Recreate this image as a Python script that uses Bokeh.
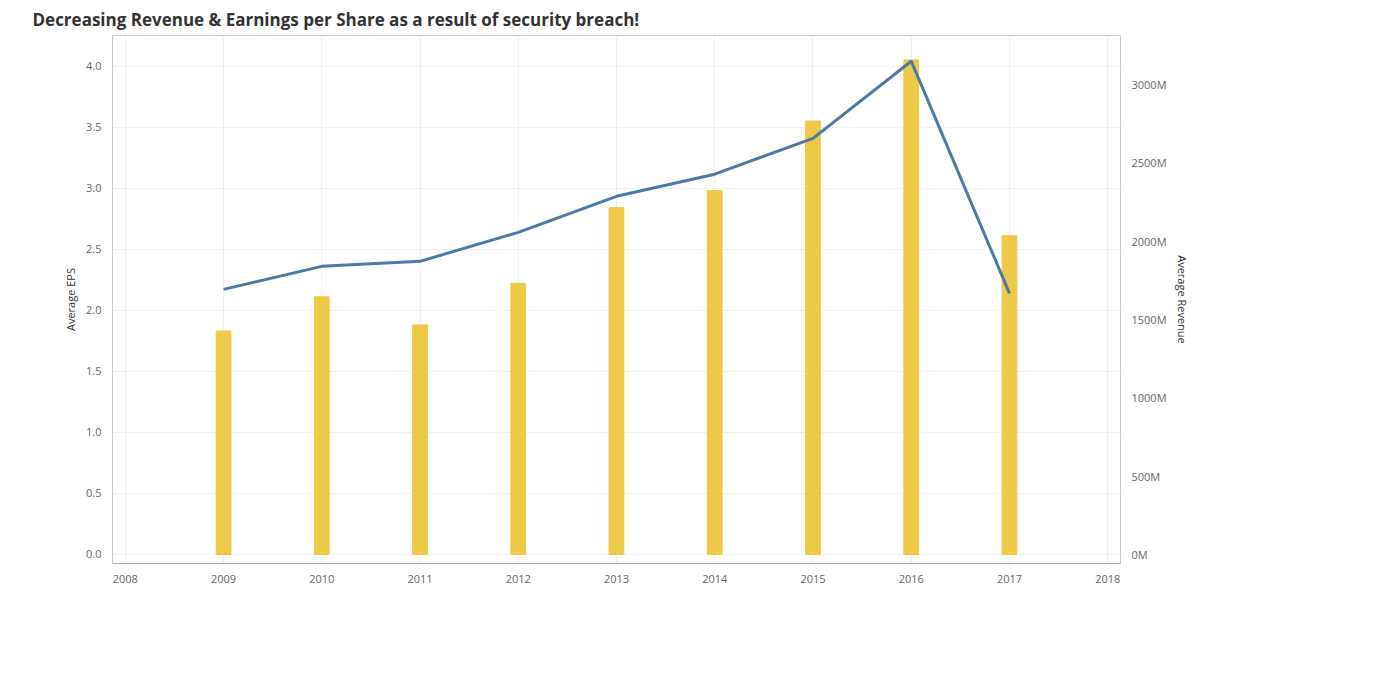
from bokeh.plotting import figure
from bokeh.models import LinearAxis, Range1d, Legend, LegendItem, FixedTicker, NumeralTickFormatter, CustomJSTickFormatter
from bokeh.embed import file_html
from bokeh.resources import INLINE

years = [2009, 2010, 2011, 2012, 2013, 2014, 2015, 2016, 2017]
avg_eps = [1.83, 2.11, 1.88, 2.22, 2.84, 2.98, 3.55, 4.05, 2.61]
avg_revenue = [1692e6, 1839e6, 1871e6, 2056e6, 2286e6, 2427e6, 2656e6, 3148e6, 1667e6]
eps_ticks = [0, 0.5, 1.0, 1.5, 2.0, 2.5, 3.0, 3.5, 4.0]
rev_ticks = [0, 500e6, 1000e6, 1500e6, 2000e6, 2500e6, 3000e6]
year_ticks = list(range(2008, 2019))

FONT = "Open Sans"
p = figure(frame_width=1008, frame_height=528, output_backend="svg", toolbar_location=None,
           x_range=Range1d(2007.87, 2018.13), y_range=Range1d(-0.074, 4.25),
           min_border_left=112, min_border_top=8, min_border_bottom=10, min_border_right=0,
           title="Decreasing Revenue & Earnings per Share as a result of security breach!")
p.title.text_font = FONT
p.title.text_font_size = "17px"
p.title.text_font_style = "bold"
p.title.text_color = "#333333"
p.title.offset = -80
p.outline_line_color = "#cccccc"
p.extra_y_ranges = {"rev": Range1d(-57e6, 3312e6)}

bars = p.vbar(x=years, top=avg_eps, width=0.15, color="#edc948")
line = p.line(x=years, y=avg_revenue, y_range_name="rev", color="#4e79a7", line_width=3)

def style(ax):
    ax.major_label_text_font = FONT
    ax.major_label_text_font_size = "11px"
    ax.major_label_text_color = "#666666"
    ax.axis_label_text_font = FONT
    ax.axis_label_text_font_size = "11px"
    ax.axis_label_text_font_style = "normal"
    ax.axis_label_text_color = "#333333"
    ax.axis_line_color = None
    ax.major_tick_line_color = None
    ax.minor_tick_line_color = None

p.yaxis.ticker = FixedTicker(ticks=eps_ticks)
p.yaxis.formatter = NumeralTickFormatter(format="0.0")
p.yaxis.axis_label = "Average EPS"
p.xaxis.ticker = FixedTicker(ticks=year_ticks)
style(p.yaxis[0]); style(p.xaxis[0])
p.xaxis.axis_line_color = "#aaaaaa"

ra = LinearAxis(y_range_name="rev", axis_label="Average Revenue",
                ticker=FixedTicker(ticks=rev_ticks),
                formatter=CustomJSTickFormatter(code="return (tick/1e6).toFixed(0) + 'M';"))
style(ra)
p.add_layout(ra, "right")

p.xgrid.grid_line_color = "#f0f0f0"
p.ygrid.grid_line_color = "#f0f0f0"

legend = Legend(items=[LegendItem(label="Avg. EPS", renderers=[bars]),
                       LegendItem(label="Avg. Revenue", renderers=[line])],
                title="Measure Names", location="top_left")
legend.title_text_font = FONT
legend.title_text_font_size = "11px"
legend.title_text_font_style = "normal"
legend.label_text_font = FONT
legend.label_text_font_size = "11px"
legend.glyph_width = 14
legend.glyph_height = 14
legend.spacing = 2
legend.padding = 4
legend.margin = 0
legend.border_line_color = "#dddddd"
p.add_layout(legend, "right")

open("out.html", "w").write(file_html(p, INLINE))
